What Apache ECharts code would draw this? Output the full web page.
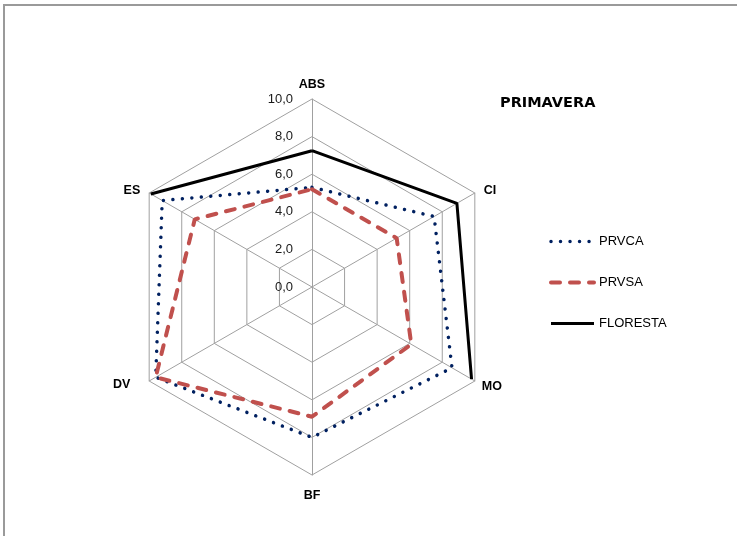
<!DOCTYPE html>
<html>
<head>
<meta charset="utf-8">
<script src="https://cdn.jsdelivr.net/npm/echarts@6/dist/echarts.min.js"></script>
<style>
html,body{margin:0;padding:0;background:#fff;}
#chart{position:absolute;left:0;top:0;width:737px;height:536px;}
#frame{position:absolute;left:3px;top:4px;width:800px;height:600px;border-top:2px solid #9a9a9a;border-left:2px solid #9a9a9a;pointer-events:none;}
</style>
</head>
<body>
<div id="chart"></div>
<div id="frame"></div>
<script>
// Categories in clockwise order starting at the top
const categories = ['ABS', 'CI', 'MO', 'BF', 'DV', 'ES'];
const tickLabels = ['0,0', '2,0', '4,0', '6,0', '8,0', '10,0'];
const prvca = [5.3, 7.5, 8.6, 8.0, 9.6, 9.2];
const prvsa = [5.2, 5.2, 6.1, 6.9, 9.6, 7.2];
const floresta = [7.25, 8.9, 9.8, null, null, 9.9];
const seriesNames = ['PRVCA', 'PRVSA', 'FLORESTA'];
const chartTitle = 'PRIMAVERA';

const CX = 312, CY = 287, R = 188;

// radar indicator order is counter-clockwise: ABS, ES, DV, BF, MO, CI
const radarOrder = [0, 5, 4, 3, 2, 1];
const namePad = {ABS:[0,0,0,0], CI:[3,0,0,2], MO:[3,0,0,0], BF:[6,0,0,0], DV:[0,12,0,0], ES:[4,2,0,0]};

const styles = {
  PRVCA: {color: '#002060', width: 3.5, type: [0.01, 9.5], cap: 'round'},
  PRVSA: {color: '#C0504D', width: 4, type: [9, 10], cap: 'round'},
  FLORESTA: {color: '#000000', width: 3, type: 'solid', cap: 'butt'}
};

function closedData(vals) {
  const out = vals.map((v, i) => [v == null ? '-' : v, i]);
  out.push([vals[0] == null ? '-' : vals[0], vals.length]);
  return out;
}

const chart = echarts.init(document.getElementById('chart'), null, {renderer: 'canvas'});
const rich = {};
categories.forEach(c => { rich['n' + c] = {fontFamily: 'Liberation Sans, Arial', fontWeight: 'bold', fontSize: 12.5, color: '#000', padding: namePad[c]}; });

const valueLists = [prvca, prvsa, floresta];

chart.setOption({
  animation: false,
  title: {
    text: chartTitle, left: 500, top: 96, padding: 0,
    textStyle: {fontFamily: 'DejaVu Sans', fontWeight: 'bold', fontSize: 14.5, color: '#000'}
  },
  legend: {
    orient: 'vertical', left: 549, top: 235, padding: 0, itemWidth: 43, itemHeight: 14, itemGap: 28,
    data: seriesNames.map(n => ({name: n, itemStyle: {opacity: 0}, lineStyle: styles[n]})),
    textStyle: {fontFamily: 'Liberation Sans, Arial', fontSize: 13, color: '#000'}
  },
  radar: {
    center: [CX, CY], radius: R, startAngle: 90, shape: 'polygon', splitNumber: 5,
    nameGap: 8,
    axisName: {
      formatter: function (name) { return '{n' + name + '|' + name + '}'; },
      rich: rich
    },
    indicator: radarOrder.map((k, i) => ({
      name: categories[k], min: 0, max: 10,
      axisLabel: i === 0 ? {
        show: true, margin: 19, fontFamily: 'Liberation Sans, Arial', fontSize: 13, color: '#1a1a1a',
        formatter: function (v) { return tickLabels[Math.round(v / 2)]; }
      } : {show: false}
    })),
    axisLine: {lineStyle: {color: '#a0a0a0', width: 1}},
    splitLine: {lineStyle: {color: '#a0a0a0', width: 1}},
    splitArea: {show: false},
    axisTick: {show: false}
  },
  polar: {center: [CX, CY], radius: R},
  angleAxis: {type: 'value', min: 0, max: categories.length, startAngle: 90, clockwise: true, show: false},
  radiusAxis: {type: 'value', min: 0, max: 10, show: false},
  series: seriesNames.map((n, i) => ({
    name: n, type: 'line', coordinateSystem: 'polar', symbol: 'none', connectNulls: false,
    data: closedData(valueLists[i]),
    lineStyle: styles[n],
    itemStyle: {color: styles[n].color}
  }))
});
</script>
</body>
</html>
